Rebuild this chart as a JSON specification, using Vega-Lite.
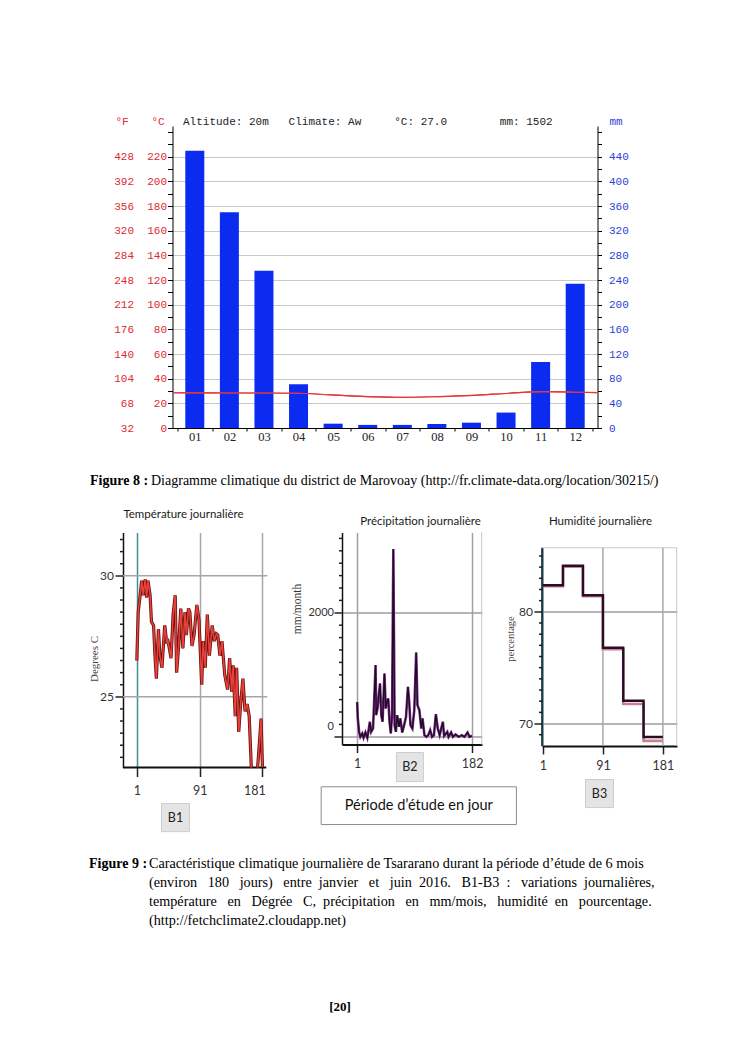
{
  "$schema": "https://vega.github.io/schema/vega-lite/v6.json",
  "background": "white",
  "padding": {"left": 88, "top": 115, "right": 5, "bottom": 5},
  "datasets": {
    "precip": [
      {"month": 1, "mm": 450}, {"month": 2, "mm": 350}, {"month": 3, "mm": 255}, {"month": 4, "mm": 71},
      {"month": 5, "mm": 7}, {"month": 6, "mm": 5}, {"month": 7, "mm": 5}, {"month": 8, "mm": 6.5},
      {"month": 9, "mm": 8.6}, {"month": 10, "mm": 25}, {"month": 11, "mm": 107}, {"month": 12, "mm": 234}
    ],
    "temperature": [
      {"month": 0.5, "temp": 28.6}, {"month": 1, "temp": 28.5}, {"month": 2, "temp": 28.4}, {"month": 3, "temp": 28.4},
      {"month": 4, "temp": 28.2}, {"month": 5, "temp": 26.8}, {"month": 6, "temp": 25.5}, {"month": 7, "temp": 24.9},
      {"month": 8, "temp": 25.5}, {"month": 9, "temp": 26.5}, {"month": 10, "temp": 28.2}, {"month": 11, "temp": 29.5},
      {"month": 12, "temp": 29.0}, {"month": 12.5, "temp": 28.7}
    ],
    "tempDaily": [
      {"day": 1, "temp": 26.5}, {"day": 3, "temp": 28.5}, {"day": 5, "temp": 29.0}, {"day": 8, "temp": 29.8},
      {"day": 10, "temp": 29.2}, {"day": 13, "temp": 29.85}, {"day": 15, "temp": 29.1}, {"day": 17, "temp": 29.8},
      {"day": 20, "temp": 29.2}, {"day": 22, "temp": 28.1}, {"day": 25, "temp": 27.95}, {"day": 27, "temp": 26.7},
      {"day": 29, "temp": 25.75}, {"day": 32, "temp": 27.8}, {"day": 34, "temp": 26.7}, {"day": 37, "temp": 26.2},
      {"day": 41, "temp": 27.95}, {"day": 44, "temp": 27.2}, {"day": 45, "temp": 27.4}, {"day": 47, "temp": 27.1},
      {"day": 50, "temp": 26.6}, {"day": 53, "temp": 28.4}, {"day": 56, "temp": 29.2}, {"day": 58, "temp": 26.0},
      {"day": 61, "temp": 27.1}, {"day": 64, "temp": 28.65}, {"day": 67, "temp": 27.0}, {"day": 70, "temp": 28.5},
      {"day": 72, "temp": 27.55}, {"day": 75, "temp": 28.65}, {"day": 77, "temp": 28.5}, {"day": 80, "temp": 27.1},
      {"day": 83, "temp": 27.55}, {"day": 87, "temp": 28.8}, {"day": 90, "temp": 28.2}, {"day": 94, "temp": 25.5},
      {"day": 96, "temp": 27.3}, {"day": 99, "temp": 26.2}, {"day": 102, "temp": 28.4}, {"day": 105, "temp": 26.7},
      {"day": 109, "temp": 27.95}, {"day": 112, "temp": 27.3}, {"day": 115, "temp": 27.6}, {"day": 117, "temp": 27.55},
      {"day": 120, "temp": 26.7}, {"day": 123, "temp": 27.3}, {"day": 127, "temp": 25.9}, {"day": 131, "temp": 25.3},
      {"day": 134, "temp": 26.6}, {"day": 137, "temp": 25.2}, {"day": 139, "temp": 26.3}, {"day": 142, "temp": 24.2},
      {"day": 144, "temp": 26.2}, {"day": 147, "temp": 23.55}, {"day": 150, "temp": 24.8}, {"day": 153, "temp": 25.75},
      {"day": 156, "temp": 24.4}, {"day": 159, "temp": 24.7}, {"day": 162, "temp": 24.2}, {"day": 165, "temp": 22.1},
      {"day": 167, "temp": 21.6}, {"day": 170, "temp": 21.8}, {"day": 173, "temp": 21.7}, {"day": 175, "temp": 22.45},
      {"day": 179, "temp": 24.1}, {"day": 181, "temp": 22.1}
    ],
    "precipDaily": [
      {"day": 1, "mm": 560}, {"day": 2, "mm": 300}, {"day": 4, "mm": 80}, {"day": 6, "mm": 0}, {"day": 9, "mm": 54},
      {"day": 11, "mm": -16}, {"day": 14, "mm": 70}, {"day": 17, "mm": -16}, {"day": 19, "mm": 107}, {"day": 21, "mm": 242},
      {"day": 23, "mm": 80}, {"day": 26, "mm": 134}, {"day": 27, "mm": 376}, {"day": 30, "mm": 1156}, {"day": 31, "mm": 350},
      {"day": 33, "mm": 457}, {"day": 37, "mm": 860}, {"day": 39, "mm": 350}, {"day": 41, "mm": 242}, {"day": 44, "mm": 1021},
      {"day": 46, "mm": 457}, {"day": 48, "mm": 565}, {"day": 50, "mm": 618}, {"day": 52, "mm": 242}, {"day": 54, "mm": 54},
      {"day": 56, "mm": 350}, {"day": 58, "mm": 3030}, {"day": 60, "mm": 188}, {"day": 62, "mm": 80}, {"day": 64, "mm": 350},
      {"day": 67, "mm": 161}, {"day": 69, "mm": 296}, {"day": 72, "mm": 70}, {"day": 75, "mm": 188}, {"day": 78, "mm": 323},
      {"day": 81, "mm": 806}, {"day": 83, "mm": 565}, {"day": 85, "mm": 188}, {"day": 88, "mm": 134}, {"day": 91, "mm": 430},
      {"day": 94, "mm": 1360}, {"day": 96, "mm": 511}, {"day": 99, "mm": 430}, {"day": 102, "mm": 134}, {"day": 104, "mm": 296},
      {"day": 107, "mm": 27}, {"day": 110, "mm": 0}, {"day": 113, "mm": 27}, {"day": 116, "mm": 107}, {"day": 119, "mm": 0},
      {"day": 122, "mm": 27}, {"day": 125, "mm": 365}, {"day": 128, "mm": 134}, {"day": 131, "mm": 27}, {"day": 136, "mm": 242},
      {"day": 138, "mm": 16}, {"day": 143, "mm": 80}, {"day": 145, "mm": 0}, {"day": 149, "mm": 70}, {"day": 152, "mm": 0},
      {"day": 156, "mm": 38}, {"day": 161, "mm": 0}, {"day": 166, "mm": 27}, {"day": 170, "mm": 0}, {"day": 175, "mm": 70},
      {"day": 178, "mm": 0}, {"day": 182, "mm": 16}
    ],
    "humidity": [
      {"day": 1, "hum": 82.38, "low": 82.3}, {"day": 31, "hum": 84.12, "low": 84.05}, {"day": 61, "hum": 81.49, "low": 81.4},
      {"day": 91, "hum": 76.78, "low": 76.65}, {"day": 121.5, "hum": 72.04, "low": 71.75}, {"day": 152, "hum": 68.8, "low": 68.45},
      {"day": 181, "hum": 68.8, "low": 68.45}
    ],
    "tempMinorTicks": [
      {"v": 22.5}, {"v": 23}, {"v": 23.5}, {"v": 24}, {"v": 24.5}, {"v": 25.5}, {"v": 26}, {"v": 26.5}, {"v": 27},
      {"v": 27.5}, {"v": 28}, {"v": 28.5}, {"v": 29}, {"v": 29.5}, {"v": 30.5}, {"v": 31}, {"v": 31.5}
    ],
    "precipMinorTicks": [
      {"v": 200}, {"v": 400}, {"v": 600}, {"v": 800}, {"v": 1000}, {"v": 1200}, {"v": 1400}, {"v": 1600}, {"v": 1800},
      {"v": 2200}, {"v": 2400}, {"v": 2600}, {"v": 2800}, {"v": 3000}, {"v": 3200}
    ],
    "humMinorTicks": [
      {"v": 69}, {"v": 71}, {"v": 72}, {"v": 73}, {"v": 74}, {"v": 75}, {"v": 76}, {"v": 77}, {"v": 78}, {"v": 79},
      {"v": 81}, {"v": 82}, {"v": 83}, {"v": 84}, {"v": 85}
    ]
  },
  "vconcat": [
    {
      "hconcat": [
        {
          "width": 1,
          "height": 1,
          "data": {"values": []},
          "mark": {"type": "point"},
          "encoding": {}
        },
        {
          "width": 425,
          "height": 302,
          "layer": [
            {
              "data": {"name": "precip"},
              "mark": {"type": "bar", "width": 19, "color": "#0b2bf0"},
              "encoding": {
                "x": {
                  "field": "month", "type": "quantitative",
                  "scale": {"domain": [0.5, 12.5], "nice": false, "zero": false},
                  "axis": {
                    "orient": "bottom",
                    "values": [0.5, 1, 1.5, 2, 2.5, 3, 3.5, 4, 4.5, 5, 5.5, 6, 6.5, 7, 7.5, 8, 8.5, 9, 9.5, 10, 10.5, 11, 11.5, 12, 12.5],
                    "labelExpr": "datum.value % 1 == 0 ? (datum.value < 10 ? '0' + datum.value : '' + datum.value) : ''",
                    "labelOverlap": false, "labelFlush": false,
                    "labelFont": "Liberation Serif", "labelFontSize": 12.5, "labelColor": "#222", "labelPadding": -1,
                    "tickSize": 3, "tickColor": "#000",
                    "tickOpacity": {"condition": {"test": "datum.value % 1 == 0", "value": 0}, "value": 1},
                    "domainColor": "#000", "grid": false,
                    "title": "Diagramme climatique du district de Marovoay (http://fr.climate-data.org/location/30215/)",
                    "titleFont": "Liberation Serif", "titleFontSize": 14, "titleFontWeight": "normal", "titleColor": "#000",
                    "titleAlign": "left", "titleX": -22, "titleY": 52, "titleBaseline": "middle"
                  }
                },
                "y": {
                  "field": "mm", "type": "quantitative",
                  "scale": {"domain": [0, 490], "nice": false},
                  "axis": {
                    "orient": "right",
                    "values": [0, 20, 40, 60, 80, 100, 120, 140, 160, 180, 200, 220, 240, 260, 280, 300, 320, 340, 360, 380, 400, 420, 440, 460, 480],
                    "labelExpr": "datum.value % 40 == 0 && datum.value <= 440 ? datum.label : ''",
                    "labelOverlap": false,
                    "labelFont": "Liberation Mono", "labelFontSize": 11, "labelColor": "#2b3fd6", "labelPadding": 7,
                    "tickSize": 4, "tickColor": "#000", "domainColor": "#000",
                    "grid": true, "gridColor": "#c8c8c8",
                    "gridOpacity": {"condition": {"test": "datum.value % 40 == 0 && datum.value > 0 && datum.value <= 440", "value": 1}, "value": 0},
                    "title": "mm", "titleAngle": 0, "titleX": 18, "titleY": -4.5, "titleAlign": "center", "titleBaseline": "middle",
                    "titleFont": "Liberation Mono", "titleFontSize": 11, "titleFontWeight": "normal", "titleColor": "#2b3fd6"
                  }
                }
              }
            },
            {
              "data": {"name": "temperature"},
              "mark": {"type": "line", "color": "#e3393b", "strokeWidth": 1.2, "interpolate": "monotone"},
              "encoding": {
                "x": {
                  "field": "month", "type": "quantitative",
                  "scale": {"domain": [0.5, 12.5], "nice": false, "zero": false},
                  "axis": {
                    "orient": "bottom", "labels": false, "ticks": false, "domain": false, "grid": false,
                    "title": "Figure 8 :", "titleFont": "Liberation Serif", "titleFontSize": 14, "titleFontWeight": "bold",
                    "titleColor": "#000", "titleAlign": "left", "titleX": -83, "titleY": 52, "titleBaseline": "middle"
                  }
                },
                "y": {
                  "field": "temp", "type": "quantitative",
                  "scale": {"domain": [0, 245], "nice": false},
                  "axis": {
                    "orient": "left",
                    "values": [0, 10, 20, 30, 40, 50, 60, 70, 80, 90, 100, 110, 120, 130, 140, 150, 160, 170, 180, 190, 200, 210, 220, 230, 240],
                    "labelExpr": "datum.value % 20 == 0 && datum.value <= 220 ? datum.label : ''",
                    "labelOverlap": false,
                    "labelFont": "Liberation Mono", "labelFontSize": 11, "labelColor": "#e0282e", "labelPadding": 1,
                    "tickSize": 5, "tickColor": "#000", "domainColor": "#000", "grid": false,
                    "title": "°C", "titleAngle": 0, "titleX": -15, "titleY": -4.5, "titleAlign": "center", "titleBaseline": "middle",
                    "titleFont": "Liberation Mono", "titleFontSize": 11, "titleFontWeight": "normal", "titleColor": "#e0282e"
                  }
                }
              }
            },
            {
              "data": {"name": "temperature"},
              "mark": {"type": "line", "color": "#e3393b", "strokeWidth": 1.2, "interpolate": "monotone"},
              "encoding": {
                "x": {
                  "field": "month", "type": "quantitative",
                  "scale": {"domain": [0.5, 12.5], "nice": false, "zero": false},
                  "axis": {
                    "orient": "top", "labels": false, "ticks": false, "domain": false, "grid": false,
                    "title": "Altitude: 20m\u00a0\u00a0\u00a0Climate: Aw\u00a0\u00a0\u00a0\u00a0\u00a0°C: 27.0\u00a0\u00a0\u00a0\u00a0\u00a0\u00a0\u00a0\u00a0mm: 1502",
                    "titleFont": "Liberation Mono", "titleFontSize": 11, "titleFontWeight": "normal", "titleColor": "#222",
                    "titleAlign": "left", "titleX": 10, "titleY": -4.5, "titleBaseline": "middle"
                  }
                },
                "y": {
                  "field": "temp", "type": "quantitative",
                  "scale": {"domain": [0, 245], "nice": false},
                  "axis": {
                    "orient": "left",
                    "values": [0, 20, 40, 60, 80, 100, 120, 140, 160, 180, 200, 220],
                    "labelExpr": "format(datum.value * 1.8 + 32, 'd')",
                    "labelOverlap": false,
                    "labelFont": "Liberation Mono", "labelFontSize": 11, "labelColor": "#e0282e", "labelPadding": 39,
                    "ticks": false, "tickSize": 0, "domain": false, "grid": false,
                    "title": "°F", "titleAngle": 0, "titleX": -51, "titleY": -4.5, "titleAlign": "center", "titleBaseline": "middle",
                    "titleFont": "Liberation Mono", "titleFontSize": 11, "titleFontWeight": "normal", "titleColor": "#e0282e"
                  }
                }
              }
            }
          ],
          "resolve": {"scale": {"x": "independent", "y": "independent"}}
        }
      ],
      "spacing": 48.5,
      "bounds": "flush"
    },
    {
      "hconcat": [
        {
          "width": 159,
          "height": 235,
          "title": {"text": "Température journalière", "font": "Lato", "fontSize": 11.5, "fontWeight": "normal", "color": "#1a1a1a", "anchor": "middle", "dx": -19, "baseline": "bottom", "offset": 0.75},
          "layer": [
            {
              "data": {"values": [{"t": 25}, {"t": 30}]},
              "mark": {"type": "rule", "color": "#a6a6a6", "strokeWidth": 1.5},
              "encoding": {
                "y": {
                  "field": "t", "type": "quantitative",
                  "scale": {"domain": [22.08, 31.79], "nice": false, "zero": false},
                  "axis": {
                    "orient": "left",
                    "values": [25, 30],
                    "labelOverlap": false, "labelFlush": false,
                    "labelFont": "Lato", "labelFontSize": 12, "labelColor": "#333", "labelPadding": 1.5,
                    "tickColor": "#222", "tickWidth": 1.5, "tickSize": 8,
                    "domainColor": "#111", "domainWidth": 1.5, "grid": false,
                    "title": "Degrees C", "titleAngle": 270, "titleX": -29, "titleY": 126, "titleAlign": "center", "titleBaseline": "middle",
                    "titleFont": "Liberation Serif", "titleFontSize": 11, "titleFontWeight": "normal", "titleColor": "#444"
                  }
                },
                "x": {
                  "datum": -18.8, "type": "quantitative",
                  "scale": {"domain": [-18.8, 209], "nice": false, "zero": false},
                  "axis": {
                    "orient": "bottom", "values": [1, 91, 181],
                    "labelOverlap": false, "labelFlush": false,
                    "labelFont": "Lato", "labelFontSize": 12.5, "labelColor": "#333", "labelPadding": 8,
                    "labelOffset": {"condition": {"test": "datum.value == 181", "value": -8}, "value": 0},
                    "tickSize": 9, "tickColor": "#222", "tickWidth": 1.5, "domain": false,
                    "grid": true, "gridWidth": 1.5,
                    "gridColor": {"condition": {"test": "datum.value == 1", "value": "#3f8e9b"}, "value": "#a6a6a6"},
                    "title": "Figure 9 :", "titleFont": "Liberation Serif", "titleFontSize": 14, "titleFontWeight": "bold",
                    "titleColor": "#000", "titleAlign": "left", "titleX": -34.5, "titleY": 89, "titleBaseline": "top"
                  }
                },
                "x2": {"datum": 188}
              }
            },
            {
              "data": {"name": "tempMinorTicks"},
              "mark": {"type": "rule", "color": "#222", "strokeWidth": 1.5},
              "encoding": {
                "y": {"field": "v", "type": "quantitative"},
                "x": {"datum": -18.8},
                "x2": {"datum": -23.1}
              }
            },
            {
              "data": {"values": [{"edge": "bottom"}]},
              "mark": {"type": "rule", "color": "#111", "strokeWidth": 2},
              "encoding": {
                "y": {"datum": 22.08},
                "x": {"datum": -18.8},
                "x2": {"datum": 186.5}
              }
            },
            {
              "data": {"name": "tempDaily"},
              "mark": {"type": "line", "color": "#6d1313", "strokeWidth": 3.2, "clip": true},
              "encoding": {
                "x": {"field": "day", "type": "quantitative"},
                "y": {"field": "temp", "type": "quantitative"}
              }
            },
            {
              "data": {"name": "tempDaily"},
              "mark": {"type": "line", "color": "#e8413a", "strokeWidth": 1.5, "clip": true},
              "encoding": {
                "x": {"field": "day", "type": "quantitative"},
                "y": {"field": "temp", "type": "quantitative"}
              }
            },
            {
              "data": {"values": [{"label": "B1"}]},
              "mark": {"type": "rect", "fill": "#e4e4e4", "stroke": "#cdcdcd", "strokeWidth": 1},
              "encoding": {
                "x": {"datum": 36.4}, "x2": {"datum": 76.5},
                "y": {"datum": 20.59}, "y2": {"datum": 19.43}
              }
            },
            {
              "data": {"values": [{"label": "B1"}]},
              "mark": {"type": "text", "font": "Lato", "fontSize": 12.5, "color": "#222", "align": "center", "baseline": "middle"},
              "encoding": {
                "x": {"datum": 56.4}, "y": {"datum": 20.01},
                "text": {"field": "label"}
              }
            }
          ]
        },
        {
          "width": 140,
          "height": 212,
          "title": {"text": "Précipitation journalière", "font": "Lato", "fontSize": 11.5, "fontWeight": "normal", "color": "#1a1a1a", "anchor": "middle", "dx": 8.5, "baseline": "bottom", "offset": -6.25},
          "layer": [
            {
              "data": {"name": "precipDaily"},
              "mark": {"type": "line", "color": "#7f2f8f", "strokeWidth": 2.6, "clip": true},
              "encoding": {
                "x": {
                  "field": "day", "type": "quantitative",
                  "scale": {"domain": [-22.9, 197.7], "nice": false, "zero": false},
                  "axis": {
                    "orient": "bottom", "values": [1, 182],
                    "labelOverlap": false, "labelFlush": false,
                    "labelFont": "Lato", "labelFontSize": 12.5, "labelColor": "#333", "labelPadding": 5,
                    "tickSize": 8, "tickColor": "#222", "tickWidth": 1.5,
                    "domainColor": "#111", "domainWidth": 2,
                    "grid": true, "gridColor": "#a0a0a0", "gridWidth": 1.5,
                    "title": [
                      "Caractéristique climatique journalière de Tsararano durant la période d’étude de 6 mois",
                      "(environ\u00a0\u00a0 180\u00a0\u00a0 jours)\u00a0\u00a0 entre\u00a0 janvier\u00a0\u00a0 et\u00a0\u00a0 juin\u00a0 2016.\u00a0\u00a0 B1-B3\u00a0 :\u00a0\u00a0 variations\u00a0 journalières,",
                      "température\u00a0\u00a0 en\u00a0\u00a0 Dégrée\u00a0\u00a0 C,\u00a0 précipitation\u00a0\u00a0 en\u00a0\u00a0 mm/mois,\u00a0\u00a0 humidité\u00a0 en\u00a0\u00a0 pourcentage.",
                      "(http://fetchclimate2.cloudapp.net)"
                    ],
                    "titleFont": "Liberation Serif", "titleFontSize": 14.2, "titleFontWeight": "normal", "titleColor": "#000",
                    "titleAlign": "left", "titleX": -193.5, "titleY": 112, "titleBaseline": "top", "titleLineHeight": 19
                  }
                },
                "y": {
                  "field": "mm", "type": "quantitative",
                  "scale": {"domain": [-124, 3295], "nice": false, "zero": false},
                  "axis": {
                    "orient": "left",
                    "values": [0, 2000],
                    "format": "d",
                    "labelOverlap": false, "labelFlush": false,
                    "labelFont": "Lato", "labelFontSize": 11, "labelColor": "#333", "labelPadding": 0.5,
                    "labelOffset": {"condition": {"test": "datum.value == 0", "value": -10}, "value": 0},
                    "tickColor": "#222", "tickWidth": 1.5, "tickSize": 8,
                    "domainColor": "#111", "domainWidth": 1.5,
                    "grid": true, "gridColor": "#9c9c9c", "gridWidth": 1.5,
                    "title": "mm/month", "titleAngle": 270, "titleX": -45, "titleY": 76, "titleAlign": "center", "titleBaseline": "middle",
                    "titleFont": "Liberation Serif", "titleFontSize": 11.5, "titleFontWeight": "normal", "titleColor": "#333"
                  }
                }
              }
            },
            {
              "data": {"name": "precipDaily"},
              "mark": {"type": "line", "color": "#1d0c1f", "strokeWidth": 1.3, "clip": true},
              "encoding": {
                "x": {"field": "day", "type": "quantitative"},
                "y": {"field": "mm", "type": "quantitative"}
              }
            },
            {
              "data": {"name": "precipMinorTicks"},
              "mark": {"type": "rule", "color": "#222", "strokeWidth": 1.5},
              "encoding": {
                "y": {"field": "v", "type": "quantitative"},
                "x": {"datum": -22.9},
                "x2": {"datum": -27.6}
              }
            },
            {
              "data": {"values": [{"edge": "right"}]},
              "mark": {"type": "rule", "color": "#c4c4c4", "strokeWidth": 1},
              "encoding": {
                "x": {"datum": 197.2},
                "y": {"datum": -124}, "y2": {"datum": 3295}
              }
            },
            {
              "data": {"values": [{"label": "B2"}]},
              "mark": {"type": "rect", "fill": "#e4e4e4", "stroke": "#cdcdcd", "strokeWidth": 1},
              "encoding": {
                "x": {"datum": 62.9}, "x2": {"datum": 105.4},
                "y": {"datum": -253}, "y2": {"datum": -721}
              }
            },
            {
              "data": {"values": [{"label": "B2"}]},
              "mark": {"type": "text", "font": "Lato", "fontSize": 12.5, "color": "#222", "align": "center", "baseline": "middle"},
              "encoding": {
                "x": {"datum": 84.1}, "y": {"datum": -487},
                "text": {"field": "label"}
              }
            },
            {
              "data": {"values": [{"label": "Période d’étude en jour"}]},
              "mark": {"type": "rect", "fill": "#ffffff", "stroke": "#8c8c8c", "strokeWidth": 1},
              "encoding": {
                "x": {"datum": -55.7}, "x2": {"datum": 251.9},
                "y": {"datum": -806}, "y2": {"datum": -1415}
              }
            },
            {
              "data": {"values": [{"label": "Période d’étude en jour"}]},
              "mark": {"type": "text", "font": "Lato", "fontSize": 14.5, "color": "#111", "align": "center", "baseline": "middle"},
              "encoding": {
                "x": {"datum": 98}, "y": {"datum": -1110},
                "text": {"field": "label"}
              }
            }
          ]
        },
        {
          "width": 135,
          "height": 213.5,
          "title": {"text": "Humidité journalière", "font": "Lato", "fontSize": 11.5, "fontWeight": "normal", "color": "#1a1a1a", "anchor": "middle", "dx": -9, "baseline": "bottom", "offset": -6.25},
          "layer": [
            {
              "data": {"values": [{"d": 91}, {"d": 181}]},
              "mark": {"type": "rule", "color": "#a8a8a8", "strokeWidth": 1.5},
              "encoding": {
                "x": {
                  "field": "d", "type": "quantitative",
                  "scale": {"domain": [-0.5, 202.2], "nice": false, "zero": false},
                  "axis": {
                    "orient": "bottom", "values": [1, 91, 181],
                    "labelOverlap": false, "labelFlush": false,
                    "labelFont": "Lato", "labelFontSize": 12.5, "labelColor": "#333", "labelPadding": 5,
                    "tickSize": 8, "tickColor": "#222", "tickWidth": 1.5,
                    "domainColor": "#111", "domainWidth": 2, "grid": false,
                    "title": "[20]", "titleFont": "Liberation Serif", "titleFontSize": 13, "titleFontWeight": "bold",
                    "titleColor": "#000", "titleAlign": "center", "titleX": -202.5, "titleY": 260.5, "titleBaseline": "middle"
                  }
                },
                "y": {
                  "datum": 67.99, "type": "quantitative",
                  "scale": {"domain": [67.99, 87.1], "nice": false, "zero": false},
                  "axis": {
                    "orient": "left",
                    "values": [70, 80],
                    "labelOverlap": false, "labelFlush": false,
                    "labelFont": "Lato", "labelFontSize": 12, "labelColor": "#333", "labelPadding": 1.5,
                    "tickColor": "#222", "tickWidth": 1.5, "tickSize": 8,
                    "domain": false,
                    "grid": true, "gridColor": "#9c9c9c", "gridWidth": 1.5,
                    "title": "percentage", "titleAngle": 270, "titleX": -31.5, "titleY": 106, "titleAlign": "center", "titleBaseline": "middle",
                    "titleFont": "Liberation Serif", "titleFontSize": 10.5, "titleFontWeight": "normal", "titleColor": "#444"
                  }
                },
                "y2": {"datum": 85.73}
              }
            },
            {
              "data": {"name": "humMinorTicks"},
              "mark": {"type": "rule", "color": "#222", "strokeWidth": 1.5},
              "encoding": {
                "y": {"field": "v", "type": "quantitative"},
                "x": {"datum": -0.5},
                "x2": {"datum": -5.0}
              }
            },
            {
              "data": {"values": [{"edge": "start"}]},
              "mark": {"type": "rule", "color": "#3f8e9b", "strokeWidth": 1.5},
              "encoding": {
                "x": {"datum": 1},
                "y": {"datum": 67.99}, "y2": {"datum": 85.73}
              }
            },
            {
              "data": {"values": [{"edge": "left"}]},
              "mark": {"type": "rule", "color": "#111", "strokeWidth": 1.5},
              "encoding": {
                "x": {"datum": -0.5},
                "y": {"datum": 67.99}, "y2": {"datum": 85.73}
              }
            },
            {
              "data": {"values": [{"edge": "top"}]},
              "mark": {"type": "rule", "color": "#c8c8c8", "strokeWidth": 1},
              "encoding": {
                "y": {"datum": 85.73},
                "x": {"datum": -0.5}, "x2": {"datum": 202.2}
              }
            },
            {
              "data": {"values": [{"edge": "right"}]},
              "mark": {"type": "rule", "color": "#c8c8c8", "strokeWidth": 1},
              "encoding": {
                "x": {"datum": 201.7},
                "y": {"datum": 67.99}, "y2": {"datum": 85.73}
              }
            },
            {
              "data": {"name": "humidity"},
              "mark": {"type": "line", "color": "#c9808f", "strokeWidth": 2.6, "interpolate": "step-after"},
              "encoding": {
                "x": {"field": "day", "type": "quantitative"},
                "y": {"field": "low", "type": "quantitative"}
              }
            },
            {
              "data": {"name": "humidity"},
              "mark": {"type": "line", "color": "#2a0c26", "strokeWidth": 2.4, "interpolate": "step-after"},
              "encoding": {
                "x": {"field": "day", "type": "quantitative"},
                "y": {"field": "hum", "type": "quantitative"}
              }
            },
            {
              "data": {"values": [{"label": "B3"}]},
              "mark": {"type": "rect", "fill": "#e4e4e4", "stroke": "#cdcdcd", "strokeWidth": 1},
              "encoding": {
                "x": {"datum": 64.8}, "x2": {"datum": 106.9},
                "y": {"datum": 64.99}, "y2": {"datum": 62.48}
              }
            },
            {
              "data": {"values": [{"label": "B3"}]},
              "mark": {"type": "text", "font": "Lato", "fontSize": 12.5, "color": "#222", "align": "center", "baseline": "middle"},
              "encoding": {
                "x": {"datum": 85.9}, "y": {"datum": 63.73},
                "text": {"field": "label"}
              }
            }
          ]
        }
      ],
      "spacing": 60,
      "bounds": "flush"
    }
  ],
  "spacing": 21.5,
  "config": {
    "view": {"stroke": null},
    "axis": {"labelOverlap": false}
  }
}
